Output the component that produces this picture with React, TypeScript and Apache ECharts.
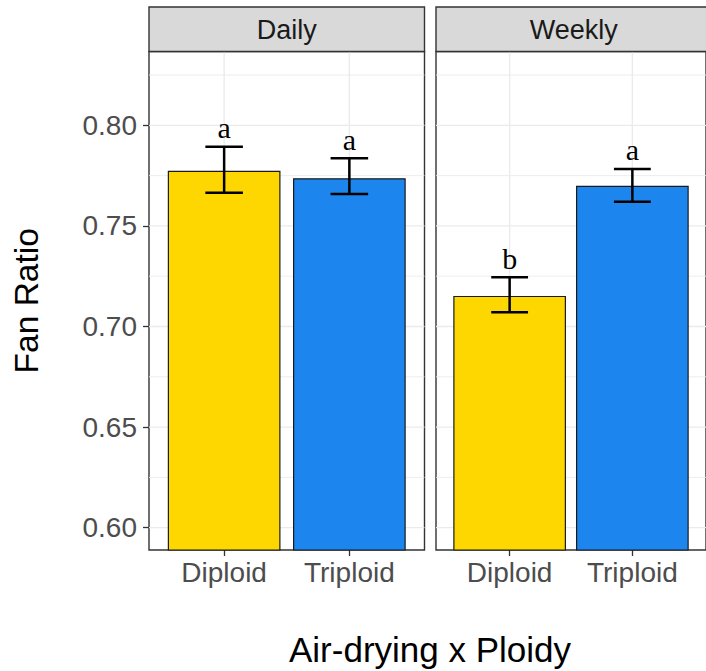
import React, { useEffect, useRef } from "react";
import * as echarts from "echarts";

// Facets and groups
const panels = ["Daily", "Weekly"];
const ploidy = ["Diploid", "Triploid"];

// Mean fan ratio per panel (Diploid, Triploid)
const meanDaily = [0.7774, 0.7737];
const meanWeekly = [0.7152, 0.77];

// Error bar limits per panel (Diploid, Triploid)
const lowDaily = [0.7665, 0.7659];
const highDaily = [0.7894, 0.7836];
const lowWeekly = [0.7071, 0.762];
const highWeekly = [0.7245, 0.7783];

// Significance letters
const lettersDaily = ["a", "a"];
const lettersWeekly = ["b", "a"];

// Y axis ticks
const yTicks = [0.6, 0.65, 0.7, 0.75, 0.8];
const yMinorTicks = [0.625, 0.675, 0.725, 0.775, 0.825];

const fillColors = ["#FFD700", "#1C86EE"];

const Y_MIN = 0.5889;
const Y_MAX = 0.8367;
const X_MIN = 0.4;
const X_MAX = 2.6;

const PANEL_TOP = 51.5;
const PANEL_H = 498.5;
const PANEL_W = 275.5;
const PANEL_LEFTS = [149, 436];
const STRIP_TOP = 7;

const SANS = "'Liberation Sans', Arial, sans-serif";
const SERIF = "'Liberation Serif', 'Times New Roman', serif";

export default function App() {
  const ref = useRef<HTMLDivElement>(null);

  useEffect(() => {
    document.body.style.margin = "0";
    if (!ref.current) return;
    const chart = echarts.init(ref.current, undefined, { renderer: "svg" });

    const means = [meanDaily, meanWeekly];
    const lows = [lowDaily, lowWeekly];
    const highs = [highDaily, highWeekly];
    const letters = [lettersDaily, lettersWeekly];

    const grids = PANEL_LEFTS.map((left) => ({
      left,
      top: PANEL_TOP,
      width: PANEL_W,
      height: PANEL_H,
      show: true,
      backgroundColor: "#FFFFFF",
      borderColor: "#333333",
      borderWidth: 1.4,
      containLabel: false,
    }));

    const xAxes = panels.map((_, i) => ({
      type: "value",
      gridIndex: i,
      min: X_MIN,
      max: X_MAX,
      axisLine: { show: false },
      splitLine: { show: false },
      axisTick: {
        show: true,
        customValues: [1, 2],
        length: 6,
        lineStyle: { color: "#333333", width: 1.3 },
      },
      axisLabel: {
        show: true,
        customValues: [1, 2],
        formatter: (v: number) => ploidy[Math.round(v) - 1] ?? "",
        fontSize: 28,
        fontFamily: SANS,
        color: "#4D4D4D",
        margin: 8,
      },
    }));

    const yAxes = panels.map((_, i) => ({
      type: "value",
      gridIndex: i,
      min: Y_MIN,
      max: Y_MAX,
      axisLine: { show: false },
      splitLine: { show: false },
      axisTick: {
        show: i === 0,
        customValues: yTicks,
        length: 6,
        lineStyle: { color: "#333333", width: 1.3 },
      },
      axisLabel: {
        show: i === 0,
        customValues: yTicks,
        formatter: (v: number) => v.toFixed(2),
        fontSize: 28,
        fontFamily: SANS,
        color: "#4D4D4D",
        margin: 12,
      },
    }));

    const series: any[] = [];
    panels.forEach((_, i) => {
      // panel grid lines: [kind, value], kind 0 = major horizontal, 1 = minor horizontal, 2 = vertical
      const gridData: number[][] = [
        ...yTicks.map((v) => [0, v]),
        ...yMinorTicks.map((v) => [1, v]),
        [2, 1],
        [2, 2],
      ];
      series.push({
        type: "custom",
        xAxisIndex: i,
        yAxisIndex: i,
        z: 1,
        silent: true,
        data: gridData,
        encode: { x: 1, y: 1 },
        renderItem: (_p: any, api: any) => {
          const kind = api.value(0);
          const v = api.value(1);
          let a, b;
          if (kind < 2) {
            a = api.coord([X_MIN, v]);
            b = api.coord([X_MAX, v]);
          } else {
            a = api.coord([v, Y_MIN]);
            b = api.coord([v, Y_MAX]);
          }
          return {
            type: "line",
            shape: { x1: a[0], y1: a[1], x2: b[0], y2: b[1] },
            style: { stroke: "#EBEBEB", lineWidth: kind === 1 ? 0.9 : 1.4 },
          };
        },
      });

      // bars
      series.push({
        type: "bar",
        xAxisIndex: i,
        yAxisIndex: i,
        z: 2,
        barWidth: 112.7,
        data: means[i].map((m, j) => ({
          value: [j + 1, m],
          itemStyle: {
            color: fillColors[j],
            borderColor: "#1A1A1A",
            borderWidth: 1.2,
          },
        })),
      });

      // error bars with letters
      series.push({
        type: "custom",
        xAxisIndex: i,
        yAxisIndex: i,
        z: 3,
        data: means[i].map((_m, j) => [j + 1, lows[i][j], highs[i][j]]),
        encode: { x: 0, y: [1, 2] },
        renderItem: (params: any, api: any) => {
          const x = api.value(0);
          const lo = api.coord([x, api.value(1)]);
          const hi = api.coord([x, api.value(2)]);
          const half = api.size([0.15, 0])[0];
          const stroke = { stroke: "#000000", lineWidth: 2.5 };
          return {
            type: "group",
            children: [
              { type: "line", shape: { x1: lo[0], y1: lo[1], x2: hi[0], y2: hi[1] }, style: stroke },
              { type: "line", shape: { x1: hi[0] - half, y1: hi[1], x2: hi[0] + half, y2: hi[1] }, style: stroke },
              { type: "line", shape: { x1: lo[0] - half, y1: lo[1], x2: lo[0] + half, y2: lo[1] }, style: stroke },
              {
                type: "text",
                style: {
                  text: letters[i][params.dataIndex],
                  x: hi[0],
                  y: hi[1] - 19,
                  align: "center",
                  verticalAlign: "middle",
                  fontSize: 30,
                  fontFamily: SERIF,
                  fill: "#000000",
                },
              },
            ],
          };
        },
      });
    });

    const graphic: any[] = [];
    panels.forEach((name, i) => {
      graphic.push({
        type: "rect",
        z: 10,
        shape: { x: PANEL_LEFTS[i], y: STRIP_TOP, width: PANEL_W, height: PANEL_TOP - STRIP_TOP },
        style: { fill: "#D9D9D9", stroke: "#333333", lineWidth: 1.4 },
      });
      graphic.push({
        type: "text",
        z: 11,
        x: PANEL_LEFTS[i] + PANEL_W / 2,
        y: (STRIP_TOP + PANEL_TOP) / 2 + 1,
        style: {
          text: name,
          align: "center",
          verticalAlign: "middle",
          fontSize: 27,
          fontFamily: SANS,
          fill: "#1A1A1A",
        },
      });
    });
    graphic.push({
      type: "text",
      x: 26,
      y: PANEL_TOP + PANEL_H / 2,
      rotation: Math.PI / 2,
      style: {
        text: "Fan Ratio",
        align: "center",
        verticalAlign: "middle",
        fontSize: 33.5,
        fontFamily: SANS,
        fill: "#000000",
      },
    });
    graphic.push({
      type: "text",
      x: 430,
      y: 649,
      style: {
        text: "Air-drying x Ploidy",
        align: "center",
        verticalAlign: "middle",
        fontSize: 35,
        fontFamily: SANS,
        fill: "#000000",
      },
    });

    chart.setOption({
      animation: false,
      backgroundColor: "#FFFFFF",
      grid: grids,
      xAxis: xAxes,
      yAxis: yAxes,
      series,
      graphic,
    });

    return () => chart.dispose();
  }, []);

  return <div ref={ref} style={{ width: 706, height: 671 }} />;
}
